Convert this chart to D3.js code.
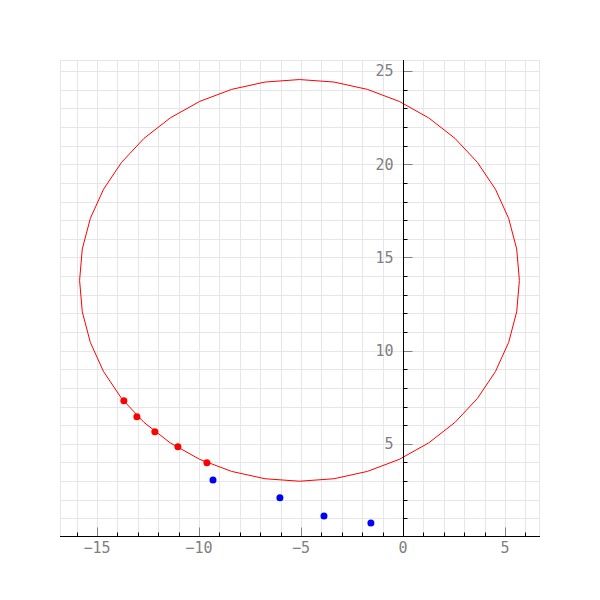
<!DOCTYPE html>
<html><head><meta charset="utf-8">
<script src="https://cdn.jsdelivr.net/npm/d3@7"></script>
<style>body{margin:0;background:#fff}</style>
</head><body><svg id="c" width="600" height="600"></svg>
<script>
const redX = [-13.68, -13.04, -12.16, -11.03, -9.61];
const redY = [7.31, 6.45, 5.65, 4.84, 3.98];
const blueX = [-9.31, -6.03, -3.87, -1.57];
const blueY = [3.06, 2.10, 1.13, 0.75];
const circleCenter = [-5.07, 13.77];
const circleRadius = 10.78;
const circleSegments = 40;
const xTicks = [-15, -10, -5, 0, 5];
const yTicks = [5, 10, 15, 20, 25];

const svg = d3.select("#c");
const L = 60, R = 540, T = 60, B = 536;
const x = d3.scaleLinear().domain([-16.81, 6.72]).range([L, R]);
const y = d3.scaleLinear().domain([0.05, 25.6]).range([B, T]);

// grid
const g = svg.append("g");
const xg = d3.range(Math.ceil(x.domain()[0]), Math.floor(x.domain()[1]) + 1);
const yg = d3.range(1, Math.floor(y.domain()[1]) + 1);
g.selectAll(".gx").data(xg).join("line")
  .attr("x1", d => Math.round(x(d)) + 0.5).attr("x2", d => Math.round(x(d)) + 0.5)
  .attr("y1", T).attr("y2", B).attr("stroke", "#e6e6e6");
g.selectAll(".gy").data(yg).join("line")
  .attr("y1", d => Math.round(y(d)) + 0.5).attr("y2", d => Math.round(y(d)) + 0.5)
  .attr("x1", L).attr("x2", R).attr("stroke", "#e6e6e6");
g.append("rect").attr("x", L + 0.5).attr("y", T + 0.5).attr("width", R - L - 1).attr("height", B - T)
  .attr("fill", "none").attr("stroke", "#e6e6e6");

// circle polygon
const pts = d3.range(circleSegments + 1).map(i => {
  const a = i / circleSegments * 2 * Math.PI;
  return [circleCenter[0] + circleRadius * Math.cos(a), circleCenter[1] + circleRadius * Math.sin(a)];
});
svg.append("path").attr("d", d3.line().x(d => x(d[0])).y(d => y(d[1]))(pts))
  .attr("fill", "none").attr("stroke", "#ff0000").attr("stroke-width", 1);

// axes
const x0 = Math.round(x(0)) + 0.5;
const yB = B + 0.5;
svg.selectAll(".mx").data(xg.filter(d => d % 5 !== 0)).join("line")
  .attr("x1", d => Math.round(x(d)) + 0.5).attr("x2", d => Math.round(x(d)) + 0.5)
  .attr("y1", yB).attr("y2", yB - 4).attr("stroke", "#000");
svg.selectAll(".my").data(yg.filter(d => d % 5 !== 0)).join("line")
  .attr("y1", d => Math.round(y(d)) + 0.5).attr("y2", d => Math.round(y(d)) + 0.5)
  .attr("x1", x0).attr("x2", x0 + 4).attr("stroke", "#000");
svg.selectAll(".Mx").data(xTicks).join("line")
  .attr("x1", d => Math.round(x(d)) + 0.5).attr("x2", d => Math.round(x(d)) + 0.5)
  .attr("y1", yB).attr("y2", yB - 9).attr("stroke", "#808080");
svg.selectAll(".My").data(yTicks).join("line")
  .attr("y1", d => Math.round(y(d)) + 0.5).attr("y2", d => Math.round(y(d)) + 0.5)
  .attr("x1", x0).attr("x2", x0 + 9).attr("stroke", "#808080");
svg.append("line").attr("x1", L).attr("x2", R).attr("y1", yB).attr("y2", yB).attr("stroke", "#000");
svg.append("line").attr("x1", x0).attr("x2", x0).attr("y1", T).attr("y2", B).attr("stroke", "#000");

const fmt = d => d < 0 ? "\u2212" + Math.abs(d) : String(d);
svg.selectAll(".lx").data(xTicks).join("text")
  .attr("x", d => x(d)).attr("y", 553).attr("text-anchor", "middle")
  .attr("font-family", "DejaVu Sans Mono").attr("font-size", 15).attr("fill", "#808080")
  .text(fmt);
svg.selectAll(".ly").data(yTicks).join("text")
  .attr("x", x0 - 10).attr("y", d => y(d)).attr("dy", "0.35em").attr("text-anchor", "end")
  .attr("font-family", "DejaVu Sans Mono").attr("font-size", 15).attr("fill", "#808080")
  .text(fmt);

svg.selectAll(".r").data(redX).join("circle")
  .attr("cx", d => x(d)).attr("cy", (d, i) => y(redY[i])).attr("r", 3.5).attr("fill", "#ff0000");
svg.selectAll(".b").data(blueX).join("circle")
  .attr("cx", d => x(d)).attr("cy", (d, i) => y(blueY[i])).attr("r", 3.5).attr("fill", "#0000ff");
</script></body></html>
